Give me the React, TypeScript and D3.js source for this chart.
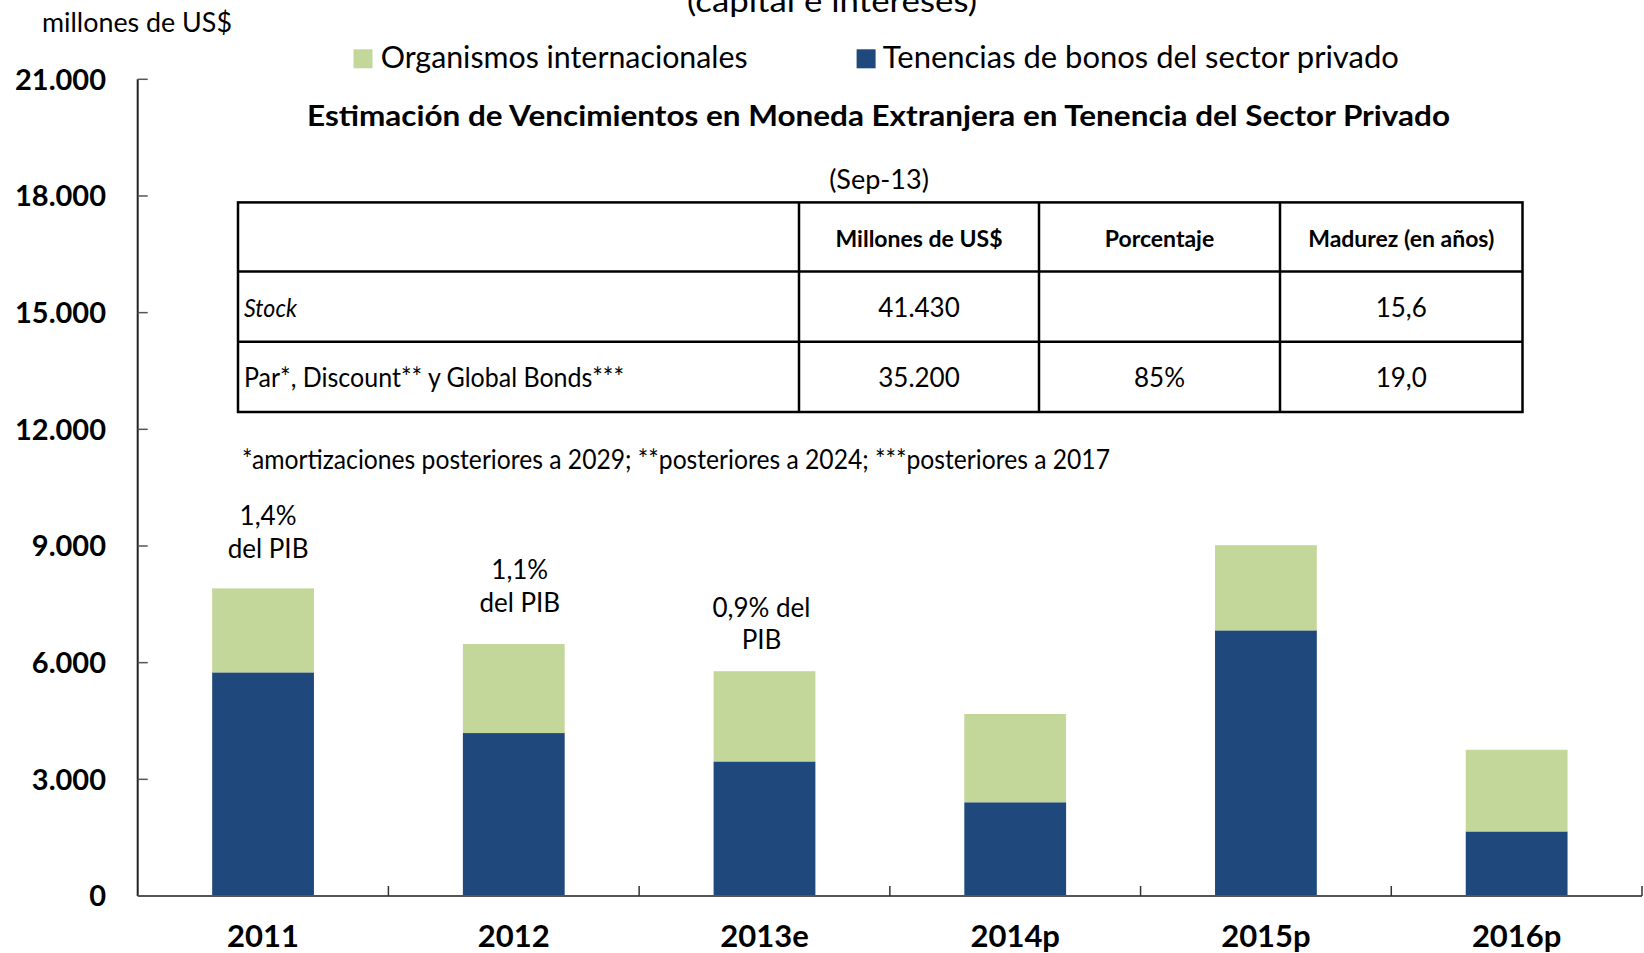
import React from "react";
import * as d3 from "d3";

// ---- data ----
const categories = ["2011", "2012", "2013e", "2014p", "2015p", "2016p"];
const privateBonds = [5750, 4190, 3460, 2410, 6830, 1660];
const intlOrgs = [2160, 2290, 2320, 2270, 2190, 2100];
const yTicks = [0, 3000, 6000, 9000, 12000, 15000, 18000, 21000];
const seriesNames = ["Organismos internacionales", "Tenencias de bonos del sector privado"];
const pibNotes = [["1,4%", "del PIB"], ["1,1%", "del PIB"], ["0,9% del", "PIB"]];
const tableHeader = ["", "Millones de US$", "Porcentaje", "Madurez (en años)"];
const tableRow1 = ["Stock", "41.430", "", "15,6"];
const tableRow2 = ["Par*, Discount** y Global Bonds***", "35.200", "85%", "19,0"];
const footnote = "*amortizaciones posteriores a 2029; **posteriores a 2024; ***posteriores a 2017";
const tableTitle = "Estimación de Vencimientos en Moneda Extranjera en Tenencia del Sector Privado";
const tableDate = "(Sep-13)";
const topTitle = "(capital e intereses)";
const unitLabel = "millones de US$";

// ---- layout ----
const W = 1644, H = 953;
const L = 137.7, R = 1642, T = 79.3, B = 896;
const GREEN = "#C4D79B", NAVY = "#1F497D";
const FONT = "Lato, 'Open Sans', sans-serif";
const colEdges = [238, 799, 1039, 1280, 1522.5];
const rowEdges = [202.4, 271.6, 341.8, 412];
const noteOffsets = [[-63, -30], [-65, -32], [-54, -22]];
const noteDx = [5, 6, -3];

const locale = d3.formatLocale({ decimal: ",", thousands: ".", grouping: [3], currency: ["$", ""] });
const fmt = locale.format(",");

export default function App() {
  const x = d3.scaleBand().domain(categories).range([L, R]).padding(0);
  const y = d3.scaleLinear().domain([0, 21000]).range([B, T]);
  const barW = x.bandwidth() * 0.406;
  const rows = categories.map((c, i) => ({ cat: c, priv: privateBonds[i], intl: intlOrgs[i] }));
  const stack = d3.stack<any>().keys(["priv", "intl"])(rows);
  const colors: Record<string, string> = { priv: NAVY, intl: GREEN };

  const cellText = (row: string[], ri: number, bold: boolean) =>
    row.map((t, ci) => {
      if (!t) return null;
      const cy = (rowEdges[ri] + rowEdges[ri + 1]) / 2 + 10;
      if (ci === 0) {
        return (
          <text key={ci} x={colEdges[0] + 6} y={cy} fontSize={26} fontStyle={ri === 1 ? "italic" : "normal"}
            textLength={ri === 1 ? 53 : 380} lengthAdjust="spacingAndGlyphs">{t}</text>
        );
      }
      const cx = (colEdges[ci] + colEdges[ci + 1]) / 2;
      return (
        <text key={ci} x={cx} y={cy} fontSize={bold ? 23 : 26} fontWeight={bold ? 700 : 400} textAnchor="middle">{t}</text>
      );
    });

  return (
    <svg width={W} height={H} style={{ position: "absolute", left: 0, top: 0, background: "#fff" }}
      fontFamily={FONT} fill="#000">
      <rect width={W} height={H} fill="#fff" />
      {/* top partially hidden title */}
      <text x={832} y={11.5} fontSize={30} textAnchor="middle" textLength={290} lengthAdjust="spacingAndGlyphs">{topTitle}</text>
      <text x={42} y={31.5} fontSize={26} textLength={190} lengthAdjust="spacingAndGlyphs">{unitLabel}</text>

      {/* legend */}
      <rect x={353.5} y={49.3} width={19} height={19} fill={GREEN} />
      <text x={380.7} y={68.3} fontSize={30} textLength={367} lengthAdjust="spacingAndGlyphs">{seriesNames[0]}</text>
      <rect x={856.6} y={49.3} width={19} height={19} fill={NAVY} />
      <text x={882.8} y={68.3} fontSize={30} textLength={516} lengthAdjust="spacingAndGlyphs">{seriesNames[1]}</text>

      {/* bars */}
      {stack.map((s) => (
        <g key={s.key} fill={colors[s.key]}>
          {s.map((d, i) => (
            <rect key={i} x={(x(categories[i]) as number) + (x.bandwidth() - barW) / 2} y={y(d[1])}
              width={barW} height={y(d[0]) - y(d[1])} />
          ))}
        </g>
      ))}

      {/* y axis */}
      <line x1={L} x2={L} y1={T} y2={B} stroke="#222" strokeWidth={2} />
      {yTicks.map((t) => (
        <g key={t}>
          {t > 0 && <line x1={L} x2={L + 10} y1={y(t)} y2={y(t)} stroke="#555" strokeWidth={1.5} />}
          <text x={106} y={y(t)} dy="0.36em" fontSize={29} fontWeight={700} textAnchor="end">{fmt(t)}</text>
        </g>
      ))}

      {/* x axis */}
      <line x1={L} x2={R} y1={B} y2={B} stroke="#555" strokeWidth={2} />
      {categories.map((c) => (
        <g key={c}>
          <line x1={(x(c) as number) + x.bandwidth()} x2={(x(c) as number) + x.bandwidth()} y1={B} y2={B - 10}
            stroke="#333" strokeWidth={1.5} />
          <text x={(x(c) as number) + x.bandwidth() / 2} y={946.8} fontSize={31} fontWeight={700} textAnchor="middle">{c}</text>
        </g>
      ))}

      {/* PIB notes */}
      {pibNotes.map((lines, i) => {
        const top = y(privateBonds[i] + intlOrgs[i]);
        const cx = (x(categories[i]) as number) + x.bandwidth() / 2 + noteDx[i];
        return (
          <g key={i}>
            {lines.map((ln, j) => (
              <text key={j} x={cx} y={top + noteOffsets[i][j]} fontSize={26} textAnchor="middle">{ln}</text>
            ))}
          </g>
        );
      })}

      {/* table title */}
      <text x={878.5} y={125.5} fontSize={28} fontWeight={700} textAnchor="middle" textLength={1143} lengthAdjust="spacingAndGlyphs">{tableTitle}</text>
      <text x={879} y={189} fontSize={27} textAnchor="middle">{tableDate}</text>

      {/* table */}
      <g stroke="#000" strokeWidth={2.5} fill="none">
        <rect x={colEdges[0]} y={rowEdges[0]} width={colEdges[4] - colEdges[0]} height={rowEdges[3] - rowEdges[0]} />
        {rowEdges.slice(1, 3).map((ry) => (
          <line key={ry} x1={colEdges[0]} x2={colEdges[4]} y1={ry} y2={ry} />
        ))}
        {colEdges.slice(1, 4).map((cx) => (
          <line key={cx} x1={cx} x2={cx} y1={rowEdges[0]} y2={rowEdges[3]} />
        ))}
      </g>
      {cellText(tableHeader, 0, true)}
      {cellText(tableRow1, 1, false)}
      {cellText(tableRow2, 2, false)}

      <text x={242} y={468.7} fontSize={26} textLength={868} lengthAdjust="spacingAndGlyphs">{footnote}</text>
    </svg>
  );
}
